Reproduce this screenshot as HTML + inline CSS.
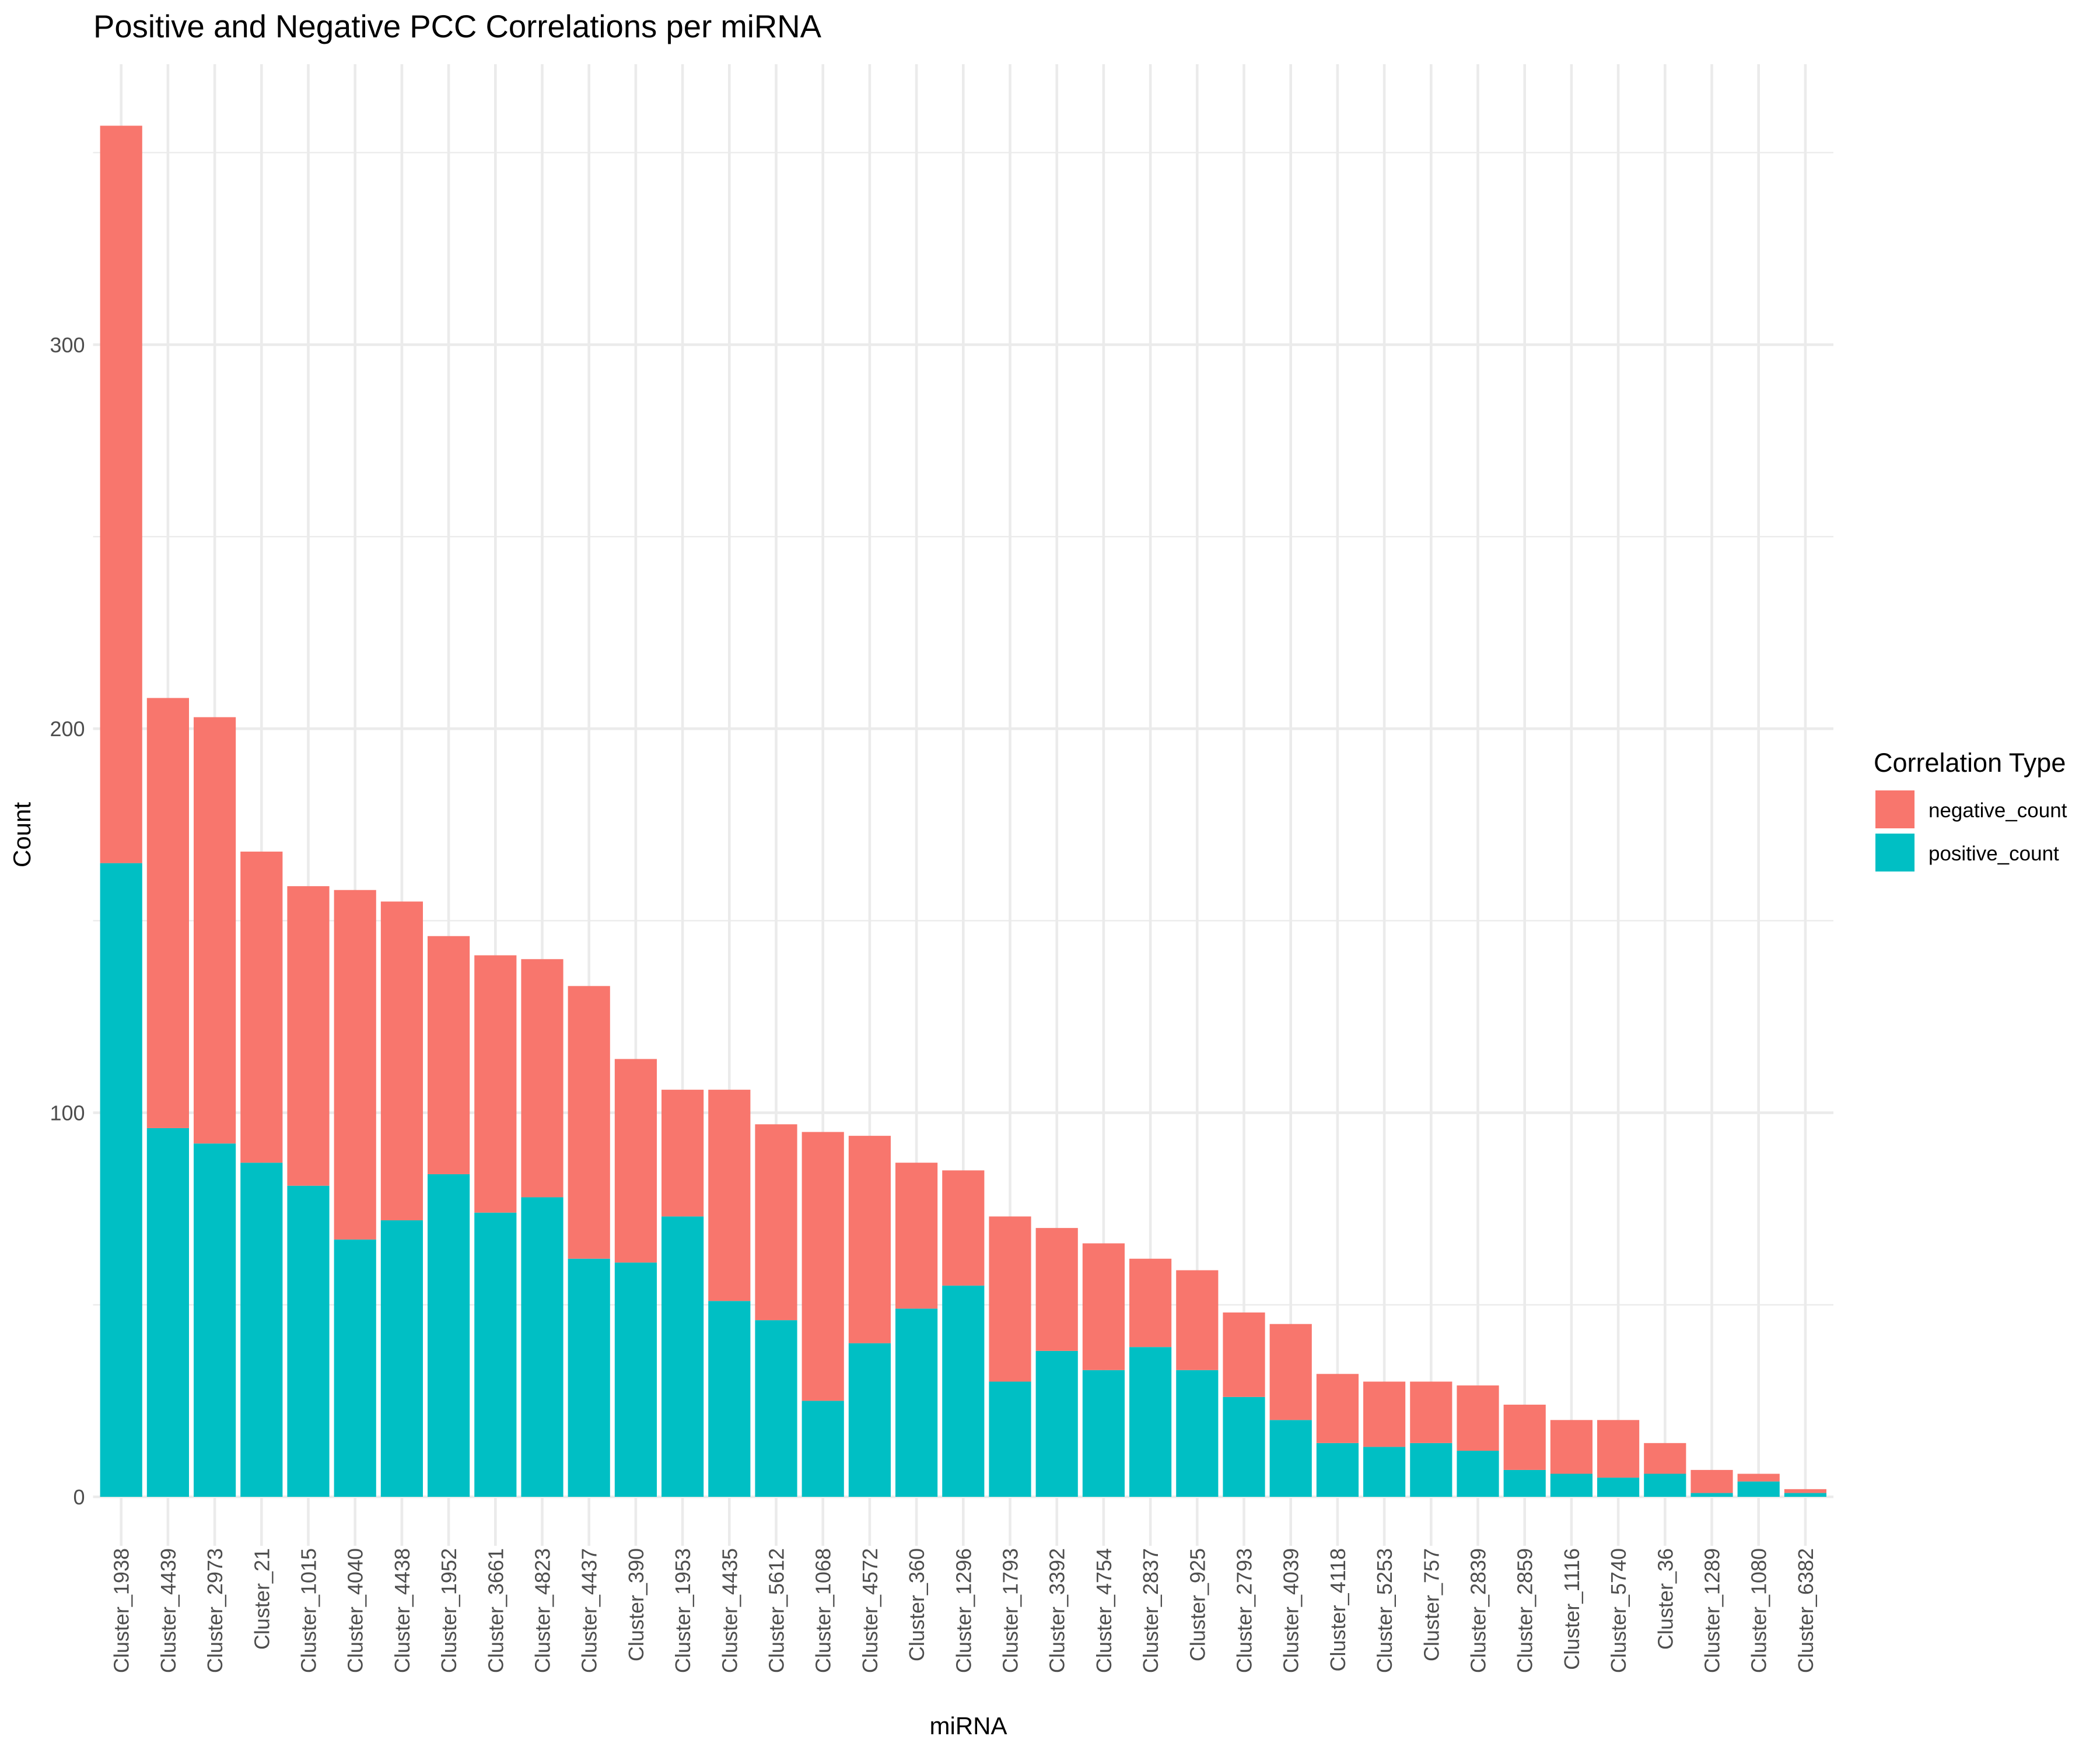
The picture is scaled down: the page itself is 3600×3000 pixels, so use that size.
<!DOCTYPE html>
<html><head><meta charset="utf-8"><style>
html,body{margin:0;padding:0;background:#fff;}
svg{display:block;font-family:"Liberation Sans",sans-serif;}
</style></head><body>
<svg id="chart" width="3600" height="3000" viewBox="0 0 3600 3000">
<rect width="3600" height="3000" fill="#fff"/>
<text x="160" y="64" font-size="54.5" fill="#000">Positive and Negative PCC Correlations per miRNA</text>
<g id="grid"></g>
<g id="bars"></g>
<g id="xlabels"></g>
<g id="ylabels"></g>
<text x="1660" y="2973" font-size="42" text-anchor="middle" fill="#000">miRNA</text>
<text transform="translate(52,1431) rotate(-90)" font-size="42" text-anchor="middle" fill="#000">Count</text>
<g>
<text x="3212" y="1323" font-size="45" fill="#000">Correlation Type</text>
<rect x="3215" y="1355" width="67" height="65" fill="#F8766D"/>
<text x="3306" y="1401" font-size="35" fill="#000">negative_count</text>
<rect x="3215" y="1429" width="67" height="65" fill="#00BFC4"/>
<text x="3306" y="1475" font-size="35" fill="#000">positive_count</text>
</g>
</svg>
<script>
const categories=["Cluster_1938","Cluster_4439","Cluster_2973","Cluster_21","Cluster_1015","Cluster_4040","Cluster_4438","Cluster_1952","Cluster_3661","Cluster_4823","Cluster_4437","Cluster_390","Cluster_1953","Cluster_4435","Cluster_5612","Cluster_1068","Cluster_4572","Cluster_360","Cluster_1296","Cluster_1793","Cluster_3392","Cluster_4754","Cluster_2837","Cluster_925","Cluster_2793","Cluster_4039","Cluster_4118","Cluster_5253","Cluster_757","Cluster_2839","Cluster_2859","Cluster_1116","Cluster_5740","Cluster_36","Cluster_1289","Cluster_1080","Cluster_6382"];
const positiveCount=[165,96,92,87,81,67,72,84,74,78,62,61,73,51,46,25,40,49,55,30,38,33,39,33,26,20,14,13,14,12,7,6,5,6,1,4,1];
const negativeCount=[192,112,111,81,78,91,83,62,67,62,71,53,33,55,51,70,54,38,30,43,32,33,23,26,22,25,18,17,16,17,17,14,15,8,6,2,1];
const yTicks=[0,100,200,300];
const yMinor=[50,150,250,350];

const ns="http://www.w3.org/2000/svg";
const step=80.2;
const firstX=207.7;
const panelL=firstX-0.6*step,panelR=firstX+(categories.length-0.4)*step,panelT=110,panelB=2650;
const y0=2566,pxPerUnit=6.584;
function xScale(i){return firstX+step*i;}
function yScale(v){return y0-v*pxPerUnit;}
const bw=step*0.9;
function mk(tag,attrs,parent){const e=document.createElementNS(ns,tag);for(const k in attrs)e.setAttribute(k,attrs[k]);parent.appendChild(e);return e;}
const grid=document.getElementById('grid'),bars=document.getElementById('bars'),xl=document.getElementById('xlabels'),yl=document.getElementById('ylabels');
yMinor.forEach(v=>{const l=mk('line',{x1:panelL,x2:panelR,y1:yScale(v),y2:yScale(v),stroke:'#EBEBEB','stroke-width':2.3},grid);

});
yTicks.forEach(v=>{const l=mk('line',{x1:panelL,x2:panelR,y1:yScale(v),y2:yScale(v),stroke:'#EBEBEB','stroke-width':4.6},grid);


const t=mk('text',{x:panelL-14,y:yScale(v)+13,'font-size':36,'text-anchor':'end',fill:'#4D4D4D'},yl);t.textContent=v;

});
categories.forEach((c,i)=>{const x=xScale(i);
const g=mk('line',{x1:x,x2:x,y1:panelT,y2:panelB,stroke:'#EBEBEB','stroke-width':4.6},grid);


const p=positiveCount[i],n=negativeCount[i];
const rp=mk('rect',{x:x-bw/2,y:yScale(p),width:bw,height:yScale(0)-yScale(p),fill:'#00BFC4'},bars);


const rn=mk('rect',{x:x-bw/2,y:yScale(p+n),width:bw,height:yScale(p)-yScale(p+n),fill:'#F8766D'},bars);


const t=mk('text',{transform:`translate(${x+13},2654) rotate(-90)`,'font-size':36,'text-anchor':'end',fill:'#4D4D4D'},xl);t.textContent=c;

});
</script>
</body></html>
